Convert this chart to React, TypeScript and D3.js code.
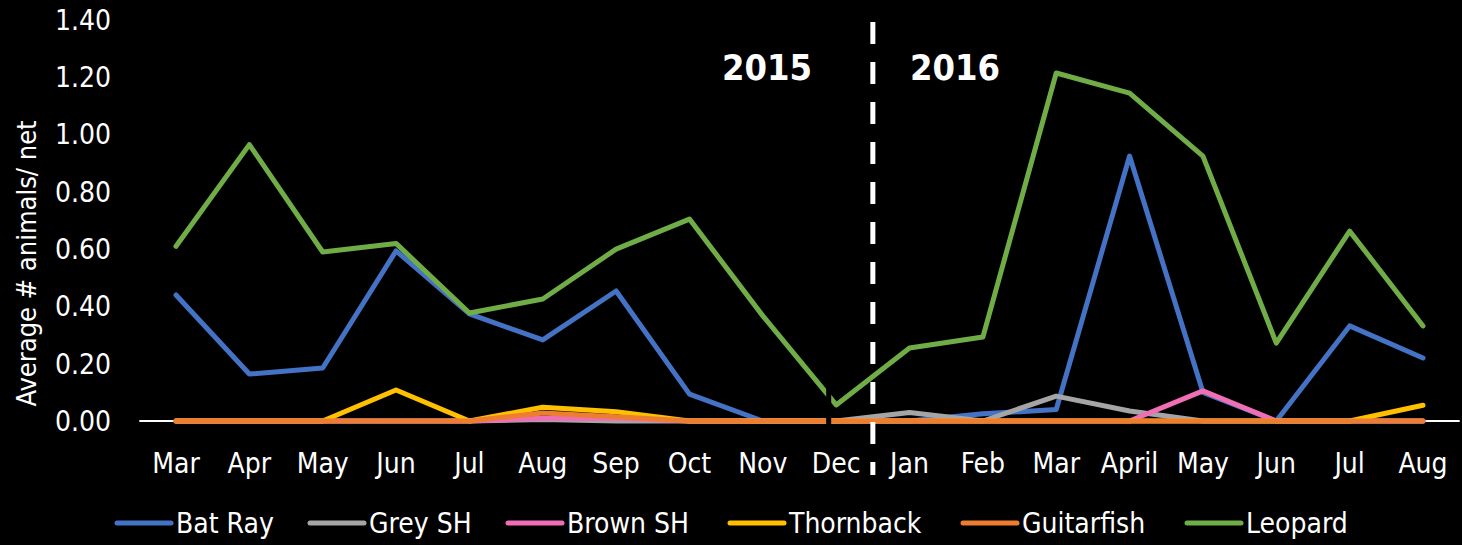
import React from "react";
import * as d3 from "d3";

const categories = ["Mar","Apr","May","Jun","Jul","Aug","Sep","Oct","Nov","Dec","Jan","Feb","Mar","April","May","Jun","Jul","Aug"];
const yTicks = [0, 0.2, 0.4, 0.6, 0.8, 1.0, 1.2, 1.4];

const batRay =     [0.44, 0.164, 0.185, 0.594, 0.374, 0.283, 0.454, 0.094, 0, 0, 0, 0.025, 0.04, 0.925, 0.10, 0, 0.332, 0.22];
const greySH =     [0, 0, 0, 0, 0, 0.005, 0, 0, 0, 0, 0.03, 0, 0.087, 0.035, 0, 0, 0, 0];
const brownSH =    [0, 0, 0, 0, 0, 0.01, 0.01, 0, 0, 0, 0, 0, 0, 0, 0.105, 0, 0, 0];
const thornback =  [0, 0, 0, 0.108, 0, 0.048, 0.032, 0, 0, 0, 0, 0, 0, 0, 0, 0, 0, 0.055];
const guitarfish = [0, 0, 0, 0, 0, 0.028, 0.015, 0, 0, 0, 0, 0, 0, 0, 0, 0, 0, 0];
const leopard =    [0.61, 0.965, 0.59, 0.62, 0.377, 0.426, 0.60, 0.705, 0.367, 0.056, 0.255, 0.293, 1.215, 1.145, 0.925, 0.272, 0.663, 0.332];

const seriesNames = ["Bat Ray", "Grey SH", "Brown SH", "Thornback", "Guitarfish", "Leopard"];
const seriesValues = [batRay, greySH, brownSH, thornback, guitarfish, leopard];
const seriesColors = ["#4472C4", "#A5A5A5", "#F06EB4", "#FFC000", "#ED7D31", "#70AD47"];
const yearLabels = ["2015", "2016"];

const FONT = "'Liberation Sans Narrow', 'DejaVu Sans Condensed', 'Liberation Sans', sans-serif";

export default function App() {
  const W = 1462, H = 545;
  const x = d3.scalePoint<number>().domain(d3.range(categories.length)).range([176, 1423]);
  const step = x.step();
  const y = d3.scaleLinear().domain([0, 1.4]).range([421, 20]);
  const line = d3.line<number>().x((_, i) => x(i) as number).y((v) => y(v));
  const decX = x(9) as number;
  const janX = x(10) as number;
  const divX = (decX + janX) / 2;
  const legendX = [117, 310, 508, 730, 963, 1187];

  return (
    <svg width={W} height={H} style={{ position: "fixed", left: 0, top: 0, background: "#000" }}>
      <rect x={0} y={0} width={W} height={H} fill="#000" />
      {yTicks.map((t) => (
        <text key={t} x={111} y={y(t)} dy="0.35em" textAnchor="end" fill="#fff" fontFamily={FONT} fontSize={28}>
          {t.toFixed(2)}
        </text>
      ))}
      <text transform={`translate(36, ${y(0.55)}) rotate(-90)`} textAnchor="middle" fill="#fff" fontFamily={FONT} fontSize={27}>
        Average # animals/ net
      </text>
      <line x1={(x(0) as number) - step / 2} x2={(x(17) as number) + step / 2} y1={y(0)} y2={y(0)} stroke="#fff" strokeWidth={2} />
      {categories.map((c, i) => (
        <text key={i} x={x(i) as number} y={473} textAnchor="middle" fill="#fff" fontFamily={FONT} fontSize={28}>
          {c}
        </text>
      ))}
      {seriesValues.map((vals, k) => (
        <path key={k} d={line(vals) || ""} fill="none" stroke={seriesColors[k]} strokeWidth={5} strokeLinejoin="round" strokeLinecap="round" />
      ))}
      <rect x={decX - 10} y={383} width={5} height={44} fill="#000" />
      <line x1={divX} x2={divX} y1={22} y2={475} stroke="#fff" strokeWidth={5} strokeDasharray="22 18" />
      <text x={767} y={80} textAnchor="middle" fill="#fff" fontFamily={FONT} fontWeight="bold" fontSize={36}>{yearLabels[0]}</text>
      <text x={955} y={80} textAnchor="middle" fill="#fff" fontFamily={FONT} fontWeight="bold" fontSize={36}>{yearLabels[1]}</text>
      {seriesNames.map((n, k) => (
        <g key={n}>
          <line x1={legendX[k]} x2={legendX[k] + 54} y1={523} y2={523} stroke={seriesColors[k]} strokeWidth={5} strokeLinecap="round" />
          <text x={legendX[k] + 59} y={523} dy="0.35em" fill="#fff" fontFamily={FONT} fontSize={28}>{n}</text>
        </g>
      ))}
    </svg>
  );
}
